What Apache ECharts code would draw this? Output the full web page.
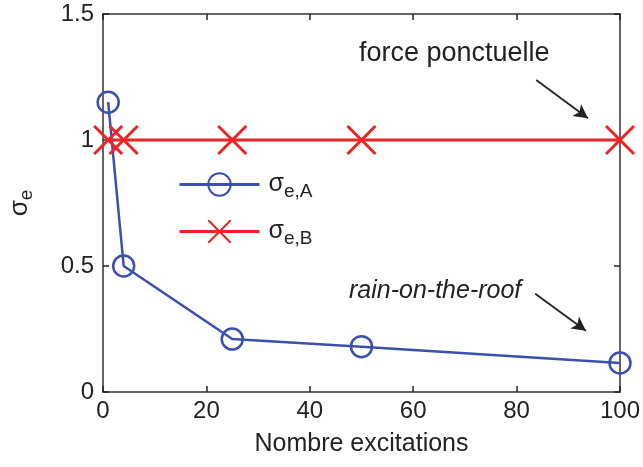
<!DOCTYPE html>
<html>
<head>
<meta charset="utf-8">
<script src="https://cdn.jsdelivr.net/npm/echarts@6/dist/echarts.min.js"></script>
<style>html,body{margin:0;padding:0;background:#fff;}#c{width:643px;height:467px;}</style>
</head>
<body>
<div id="c"></div>
<script>
const xValues = [1, 4, 25, 50, 100];
const sigmaA = [1.15, 0.50, 0.21, 0.18, 0.115];
const sigmaB = [1, 1, 1, 1, 1];
const xTicks = [0, 20, 40, 60, 80, 100];
const yTicks = [0, 0.5, 1, 1.5];
const arrow1 = [[83.8, 1.238], [93.8, 1.086]];
const arrow2 = [[83.6, 0.39], [93.4, 0.243]];

const FONT = '"Liberation Sans", Arial, sans-serif';
const BLUE = '#3a4fae';
const RED = '#ee2424';
const TXT = '#222';

const chart = echarts.init(document.getElementById('c'), null, {renderer: 'canvas'});
const axisCommon = {
  axisLine: {show: true, onZero: false, lineStyle: {color: '#333', width: 1.5}},
  axisTick: {show: true, inside: true, length: 6, lineStyle: {color: '#222', width: 1.5}},
  splitLine: {show: false}
};
chart.setOption({
  animation: false,
  backgroundColor: '#fff',
  grid: {left: 103, right: 23, top: 14, bottom: 75, containLabel: false, outerBoundsMode: 'none'},
  xAxis: [
    Object.assign({type: 'value', min: 0, max: 100, interval: 20, position: 'bottom',
      name: 'Nombre excitations', nameLocation: 'middle', nameGap: 40,
      nameTextStyle: {fontFamily: FONT, fontSize: 25, color: TXT},
      axisLabel: {fontFamily: FONT, fontSize: 24, color: TXT, margin: 7,
        formatter: v => xTicks.includes(v) ? String(v) : ''}}, axisCommon),
    Object.assign({type: 'value', min: 0, max: 100, interval: 20, position: 'top',
      axisLabel: {show: false}}, axisCommon)
  ],
  yAxis: [
    Object.assign({type: 'value', min: 0, max: 1.5, interval: 0.5, position: 'left',
      name: '{s|σ}{e|e}', nameLocation: 'middle', nameGap: 67, nameRotate: 90,
      nameTextStyle: {color: TXT, fontFamily: FONT,
        rich: {s: {fontSize: 26, fontFamily: FONT, color: TXT}, e: {fontSize: 19, fontFamily: FONT, color: TXT, padding: [14, 0, 0, 0]}}},
      axisLabel: {fontFamily: FONT, fontSize: 24, color: TXT, margin: 9,
        formatter: v => yTicks.includes(v) ? String(v) : ''}}, axisCommon),
    Object.assign({type: 'value', min: 0, max: 1.5, interval: 0.5, position: 'right',
      axisLabel: {show: false}}, axisCommon)
  ],
  legend: {
    left: 178, top: 172, padding: 0, orient: 'vertical', itemWidth: 80, itemHeight: 28, itemGap: 18,
    lineStyle: {width: 3},
    textStyle: {fontFamily: FONT, color: TXT, fontSize: 24, padding: [0, 0, 0, 4],
      rich: {s: {fontSize: 25, fontFamily: FONT, color: TXT}, e: {fontSize: 19, fontFamily: FONT, color: TXT, padding: [14, 0, 0, 0]}}},
    formatter: n => n === 'A' ? '{s|σ}{e|e,A}' : '{s|σ}{e|e,B}',
    data: ['A', 'B']
  },
  series: [
    {
      name: 'A', type: 'line', data: xValues.map((x, i) => [x, sigmaA[i]]),
      symbol: 'circle', symbolSize: 21,
      lineStyle: {color: BLUE, width: 2.5},
      itemStyle: {color: 'rgba(255,255,255,0)', borderColor: BLUE, borderWidth: 2.5},
      z: 3,
      markLine: {
        silent: true, symbol: ['none', 'arrow'], symbolSize: [11, 14],
        lineStyle: {color: '#222', width: 1.8, type: 'solid'},
        label: {show: false},
        data: [
          [{coord: arrow1[0]}, {coord: arrow1[1]}],
          [{coord: arrow2[0]}, {coord: arrow2[1]}]
        ]
      }
    },
    {
      name: 'B', type: 'line', data: xValues.map((x, i) => [x, sigmaB[i]]),
      symbol: 'path://M0,0L10,10M10,0L0,10', symbolSize: 28,
      lineStyle: {color: RED, width: 3},
      itemStyle: {color: 'rgba(255,255,255,0)', borderColor: RED, borderWidth: 3},
      z: 4
    }
  ],
  graphic: [
    {type: 'text', left: 359, top: 40, style: {text: 'force ponctuelle', font: '27px ' + FONT, fill: TXT}},
    {type: 'text', left: 349, top: 279, style: {text: 'rain-on-the-roof', font: 'italic 25px ' + FONT, fill: TXT}}
  ]
});
</script>
</body>
</html>
